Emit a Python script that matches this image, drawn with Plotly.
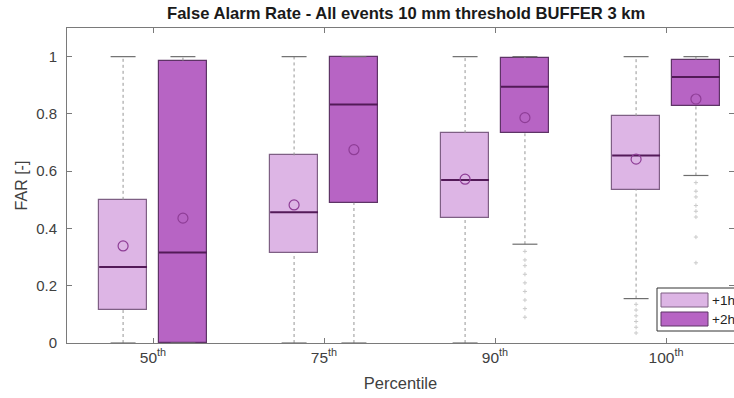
import plotly.graph_objects as go

# ---------------- data ----------------
categories = ["50<sup>th</sup>", "75<sup>th</sup>", "90<sup>th</sup>", "100<sup>th</sup>"]
series_names = ["+1h", "+2h"]

# +1h
h1_lower = [0.0, 0.0, 0.0, 0.155]
h1_q1 = [0.115, 0.314, 0.436, 0.536]
h1_median = [0.265, 0.457, 0.569, 0.655]
h1_q3 = [0.500, 0.655, 0.733, 0.792]
h1_upper = [1.0, 1.0, 1.0, 1.0]
h1_mean = [0.339, 0.482, 0.572, 0.642]
h1_outliers = [[], [], [], [0.135, 0.115, 0.095, 0.075, 0.055, 0.035]]

# +2h
h2_lower = [0.0, 0.0, 0.345, 0.585]
h2_q1 = [0.0, 0.490, 0.732, 0.826]
h2_median = [0.316, 0.833, 0.895, 0.929]
h2_q3 = [0.986, 1.0, 0.994, 0.990]
h2_upper = [1.0, 1.0, 1.0, 1.0]
h2_mean = [0.436, 0.675, 0.787, 0.852]
h2_outliers = [[], [], [0.32, 0.29, 0.27, 0.24, 0.21, 0.18, 0.15, 0.12, 0.09],
               [0.56, 0.53, 0.51, 0.48, 0.46, 0.44, 0.37, 0.28]]

# ---------------- style ----------------
W, H = 734, 398
ML, MR, MT, MB = 67, 0, 28, 55
fills = ["#DDB5E5", "#B764C4"]
edges = ["#7E5F84", "#5E3466"]
median_color = "#531A58"
mean_color = "#8E3D96"
whisker_color = "#969696"
axis_color = "#7A7A7A"
offsets = [-0.175, 0.175]
box_w = 0.28
cap_w = 0.146
FONT = "Liberation Sans, Arial, sans-serif"

fig = go.Figure()

series = [
    (h1_lower, h1_q1, h1_median, h1_q3, h1_upper, h1_mean, h1_outliers),
    (h2_lower, h2_q1, h2_median, h2_q3, h2_upper, h2_mean, h2_outliers),
]

for s, (lo, q1, med, q3, up, mn, outl) in enumerate(series):
    xs = [i + 1 + offsets[s] for i in range(len(categories))]
    # whiskers (dotted)
    wx, wy = [], []
    for x, a, b, c, d in zip(xs, lo, q1, q3, up):
        wx += [x, x, None, x, x, None]
        wy += [a, b, None, c, d, None]
    fig.add_trace(go.Scatter(x=wx, y=wy, mode="lines", showlegend=False, hoverinfo="skip",
                             line=dict(color=whisker_color, width=1, dash="dot")))
    # outliers
    ox, oy = [], []
    for x, vals in zip(xs, outl):
        ox += [x] * len(vals)
        oy += vals
    if ox:
        fig.add_trace(go.Scatter(x=ox, y=oy, mode="markers", showlegend=False, hoverinfo="skip",
                                 marker=dict(symbol="cross-thin-open", size=3, color="#CACACA",
                                             line=dict(color="#CACACA", width=1))))
    # boxes
    fig.add_trace(go.Bar(x=xs, y=[b - a for a, b in zip(q1, q3)], base=q1, width=box_w,
                         name=series_names[s], showlegend=False,
                         marker=dict(color=fills[s], line=dict(color=edges[s], width=1.2))))
    # caps
    cx, cy = [], []
    for x, a, d in zip(xs, lo, up):
        cx += [x - cap_w / 2, x + cap_w / 2, None, x - cap_w / 2, x + cap_w / 2, None]
        cy += [a, a, None, d, d, None]
    fig.add_trace(go.Scatter(x=cx, y=cy, mode="lines", showlegend=False, hoverinfo="skip",
                             line=dict(color="#6E6E6E", width=1.2)))
    # medians
    mx, my = [], []
    for x, m in zip(xs, med):
        mx += [x - box_w / 2, x + box_w / 2, None]
        my += [m, m, None]
    fig.add_trace(go.Scatter(x=mx, y=my, mode="lines", showlegend=False, hoverinfo="skip",
                             line=dict(color=median_color, width=2)))
    # means
    fig.add_trace(go.Scatter(x=xs, y=mn, mode="markers", showlegend=False, hoverinfo="skip",
                             marker=dict(symbol="circle-open", size=10, color=mean_color,
                                         line=dict(color=mean_color, width=1.2))))

PW = W - ML - MR
PH = H - MT - MB


def px(x):
    return (x - ML) / PW


def py(y):
    return (H - MB - y) / PH


# manual legend (MATLAB style)
shapes = [
    dict(type="rect", xref="paper", yref="paper", x0=px(657), x1=px(760), y0=py(331), y1=py(288),
         line=dict(color="#333333", width=1), fillcolor="white", layer="above"),
    dict(type="rect", xref="paper", yref="paper", x0=px(661), x1=px(708), y0=py(307), y1=py(293),
         line=dict(color=edges[0], width=1), fillcolor=fills[0], layer="above"),
    dict(type="rect", xref="paper", yref="paper", x0=px(661), x1=px(708), y0=py(326), y1=py(312),
         line=dict(color=edges[1], width=1), fillcolor=fills[1], layer="above"),
]
annotations = [
    dict(text=series_names[0], xref="paper", yref="paper", x=px(710), y=py(300), xanchor="left",
         yanchor="middle", showarrow=False, font=dict(family=FONT, size=13.5, color="#222222")),
    dict(text=series_names[1], xref="paper", yref="paper", x=px(710), y=py(319), xanchor="left",
         yanchor="middle", showarrow=False, font=dict(family=FONT, size=13.5, color="#222222")),
    dict(text="<b>False Alarm Rate - All events 10 mm threshold BUFFER 3 km</b>", xref="paper",
         yref="paper", x=px(406), y=py(14), xanchor="center", yanchor="middle", showarrow=False,
         font=dict(family=FONT, size=16.6, color="#1A1A1A")),
]

fig.update_layout(
    width=W, height=H,
    margin=dict(l=ML, r=MR, t=MT, b=MB, pad=0),
    paper_bgcolor="white", plot_bgcolor="white",
    barmode="overlay", bargap=0,
    showlegend=False,
    shapes=shapes, annotations=annotations,
    font=dict(family=FONT, size=15, color="#404040"),
)
fig.update_xaxes(
    range=[0.497, 0.497 + PW / 171.0],
    tickmode="array", tickvals=[1, 2, 3, 4], ticktext=categories,
    ticks="inside", ticklen=5, tickcolor=axis_color,
    showline=True, linecolor=axis_color, linewidth=1, mirror="ticks",
    showgrid=False, zeroline=False,
    tickfont=dict(family=FONT, size=15.5, color="#404040"),
    title=dict(text="Percentile", font=dict(family=FONT, size=16.5, color="#404040"), standoff=12),
)
fig.update_yaxes(
    range=[0, 1.1],
    tickmode="array", tickvals=[0, 0.2, 0.4, 0.6, 0.8, 1.0],
    ticktext=["0", "0.2", "0.4", "0.6", "0.8", "1"],
    ticks="inside", ticklen=5, tickcolor=axis_color,
    showline=True, linecolor=axis_color, linewidth=1, mirror="ticks",
    showgrid=False, zeroline=False,
    ticklabelstandoff=6,
    tickfont=dict(family=FONT, size=15, color="#404040"),
    title=dict(text="FAR [-]", font=dict(family=FONT, size=16, color="#404040"), standoff=4),
)

fig.write_html("out.html")
